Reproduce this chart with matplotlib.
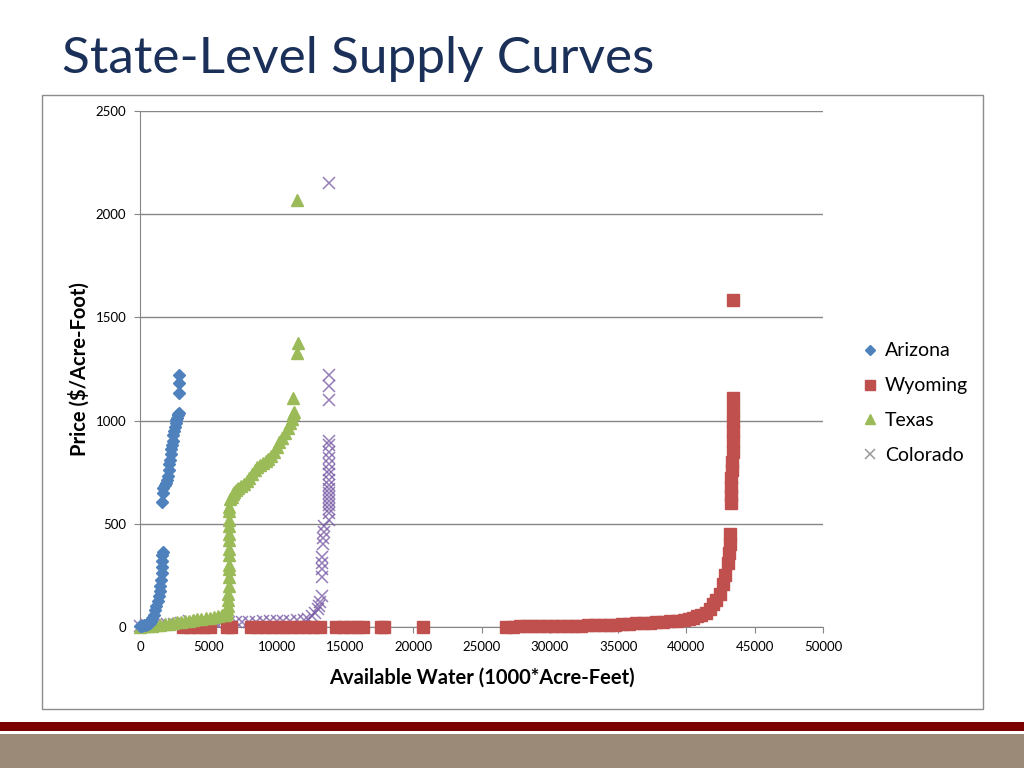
import matplotlib
matplotlib.use("Agg")
import matplotlib.pyplot as plt
from matplotlib.patches import Rectangle

plt.rcParams["font.family"] = ["Lato", "DejaVu Sans"]

# --- data (x in 1000 acre-feet, y in $/acre-foot) ---
arizona_x = [0, 150, 300, 450, 600, 700, 800, 900, 1000, 1100, 1200, 1300, 1400,
             1450, 1500, 1550, 1580, 1600, 1620, 1640, 1650,
             1630, 1660, 1700, 1800, 1900, 2000, 2050, 2100, 2150, 2200, 2250,
             2300, 2350, 2400, 2450, 2500, 2550, 2600, 2650, 2700, 2750, 2800,
             2850, 2870, 2870, 2870]
arizona_y = [5, 6, 8, 10, 14, 20, 30, 45, 60, 80, 100, 125, 150,
             175, 200, 230, 260, 290, 320, 350, 365,
             607, 650, 675, 690, 700, 710, 730, 760, 790, 810, 840,
             860, 880, 900, 930, 950, 970, 990, 1005, 1015, 1025, 1030,
             1037, 1132, 1182, 1221]

texas_x = [0, 300, 600, 900, 1200, 1500, 1800, 2100, 2400, 2700, 3000, 3300,
           3600, 3900, 4200, 4500, 4800, 5100, 5400, 5700, 6000, 6200, 6350,
           6400, 6450, 6450, 6450, 6480, 6480, 6480, 6500, 6500, 6500, 6500,
           6500, 6500, 6500, 6500,
           6500, 6600, 6700, 6800, 6900, 7000, 7200, 7400, 7600, 7800, 8000,
           8200, 8400, 8600, 8800, 9000, 9200, 9400, 9600, 9800, 10000, 10200,
           10400, 10600, 10800, 11000, 11100, 11220, 11250, 11220, 11470,
           11590, 11490]
texas_y = [2, 3, 4, 6, 8, 10, 13, 16, 19, 22, 25, 28,
           31, 34, 37, 40, 43, 46, 49, 52, 56, 60, 70,
           85, 100, 130, 160, 200, 240, 280, 300, 350, 380, 420,
           450, 490, 520, 560,
           580, 620, 630, 645, 655, 665, 675, 685, 695, 705, 720,
           740, 760, 775, 785, 795, 805, 815, 830, 850, 870, 895,
           915, 940, 965, 990, 1010, 1030, 1040, 1108, 1326,
           1374, 2069]

colorado_x = [0, 500, 1000, 1500, 2000, 2500, 3000, 3600, 4000, 4500, 5000,
              5500, 6000, 6500, 7000, 7500, 8000, 8500, 9000, 9500, 10000,
              10500, 11000, 11500, 12000, 12300, 12600, 12800, 13000, 13100,
              13200, 13300, 13300, 13300, 13300, 13350, 13400, 13400, 13450,
              13500, 13800, 13800, 13800, 13800, 13800, 13800, 13800, 13800,
              13800, 13800, 13800, 13800, 13800, 13800, 13800, 13800, 13800,
              13800, 13800, 13800, 13800]
colorado_y = [5, 8, 10, 12, 14, 16, 18, 30, 20, 20, 22,
              22, 23, 24, 24, 25, 26, 26, 27, 27, 28,
              29, 30, 32, 35, 40, 55, 70, 85, 100,
              120, 150, 240, 280, 310, 340, 400, 430, 460,
              490, 520, 550, 570, 590, 610, 630, 650, 670,
              690, 710, 740, 760, 790, 820, 850, 880, 900,
              1100, 1170, 1220, 2150]

wyoming_x = [3150, 3650, 4150, 4650, 5150, 6400, 6650, 8150, 8650, 9150, 9650,
             10150, 10650, 11150, 11650, 12150, 12650, 13200, 14350, 14850,
             15350, 15850, 16350, 17650, 17850, 20750,
             26800, 27300, 27800, 28300, 28800, 29300, 29800, 30300, 30800,
             31300, 31800, 32300, 32800, 33300, 33800, 34300, 34800, 35300,
             35800, 36300, 36800, 37300, 37800, 38300, 38800, 39300, 39800,
             40200, 40500, 40800, 41100, 41400, 41700, 41950, 42200, 42450,
             42680, 42850, 43050, 43120, 43190, 43190, 43250, 43250, 43300,
             43300, 43350, 43350, 43400, 43400, 43400, 43410, 43410, 43410,
             43410]
wyoming_y = [0, 0, 0, 0, 0, 0, 0, 0, 0, 0, 0,
             0, 0, 0, 0, 0, 0, 0, 0, 0,
             0, 0, 0, 0, 0, 0,
             2, 2, 3, 3, 3, 4, 4, 5, 5,
             6, 6, 7, 8, 9, 10, 11, 12, 14,
             15, 17, 19, 21, 23, 25, 28, 31, 35,
             40, 45, 52, 60, 70, 85, 110, 130, 160,
             210, 250, 310, 360, 400, 450, 600, 640, 680,
             720, 760, 800, 850, 900, 950, 1000, 1050, 1108,
             1584]

x_ticks = [0, 5000, 10000, 15000, 20000, 25000, 30000, 35000, 40000, 45000, 50000]
y_ticks = [0, 500, 1000, 1500, 2000, 2500]

fig = plt.figure(figsize=(10.24, 7.68), dpi=100)

# slide title
fig.text(62 / 1024, 1 - 59 / 768, "State-Level Supply Curves", fontsize=37,
         color="#1B3058", ha="left", va="center")

# chart frame
fig.patches.append(Rectangle((42 / 1024, 1 - 709 / 768), 941 / 1024, 614 / 768,
                             transform=fig.transFigure, fill=False,
                             edgecolor="#8c8c8c", linewidth=1))

# footer bands
fig.patches.append(Rectangle((0, 1 - 731 / 768), 1, 9 / 768, transform=fig.transFigure,
                             facecolor="#7B0000", edgecolor="none"))
fig.patches.append(Rectangle((0, 0), 1, 34 / 768, transform=fig.transFigure,
                             facecolor="#9C8A78", edgecolor="none"))

ax = fig.add_axes([140 / 1024, 1 - 627 / 768, 683 / 1024, 516 / 768])

ax.plot(colorado_x, colorado_y, linestyle="none", marker="x", markersize=9,
        markeredgewidth=1.1, color="#7A5CA6", alpha=0.8, label="Colorado",
        clip_on=False, zorder=3)
ax.plot(wyoming_x, wyoming_y, linestyle="none", marker="s", markersize=8.5,
        color="#C0504D", label="Wyoming", clip_on=False, zorder=4)
ax.plot(texas_x, texas_y, linestyle="none", marker="^", markersize=8.5,
        color="#9BBB59", label="Texas", clip_on=False, zorder=5)
ax.plot(arizona_x, arizona_y, linestyle="none", marker="D", markersize=6.5,
        color="#4F81BD", label="Arizona", clip_on=False, zorder=6)

ax.set_xlim(0, 50000)
ax.set_ylim(0, 2500)
ax.set_xticks(x_ticks)
ax.set_yticks(y_ticks)
ax.tick_params(axis="both", labelsize=9.5, color="#868686", length=4)
ax.tick_params(axis="x", pad=6)
ax.tick_params(axis="y", pad=6)
ax.grid(axis="y", color="#868686", linewidth=1)
ax.set_axisbelow(True)
for s in ["top", "right"]:
    ax.spines[s].set_visible(False)
for s in ["left", "bottom"]:
    ax.spines[s].set_color("#868686")

ax.set_xlabel("Available Water (1000*Acre-Feet)", fontsize=14.5, fontweight="bold",
              labelpad=11)
ax.set_ylabel("Price ($/Acre-Foot)", fontsize=14.5, fontweight="bold", labelpad=4)

handles, labels = ax.get_legend_handles_labels()
order = [3, 1, 2, 0]
leg = fig.legend([handles[i] for i in order], [labels[i] for i in order],
                 loc="upper left", bbox_to_anchor=(846 / 1024, 1 - 325 / 768),
                 frameon=False, fontsize=14, labelspacing=0.92,
                 handlelength=0.7, handletextpad=0.4, markerscale=0.85)
for h in leg.legend_handles:
    h.set_alpha(1)
leg.legend_handles[3].set_color("#999999")

fig.savefig("out.png", dpi=100)
